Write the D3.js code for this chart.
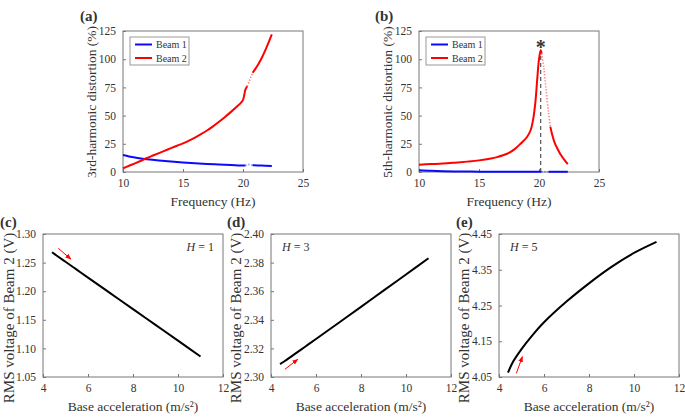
<!DOCTYPE html>
<html><head><meta charset="utf-8">
<script src="https://cdn.jsdelivr.net/npm/d3@7"></script>
<style>
body{margin:0;background:#fff;}
text{font-family:"Liberation Serif","Times New Roman",serif;fill:#333;}
</style></head>
<body><svg id="c" width="685" height="418"></svg>
<script>
// ---------- data ----------
// (a) 3rd-harmonic distortion (%)
const freqA_b1 = [10,10.5,11,11.5,12,13,14,15,16,17,18,19,20,20.2];
const beam1A   = [15,13.8,12.8,12,11.3,10.2,9.3,8.5,7.8,7.2,6.7,6.2,5.7,5.8];
const freqA_b1u = [20.2,20.35,20.5,20.65,20.8];
const beam1Au   = [5.8,6.3,6.6,6.3,6.0];
const freqA_b1h = [20.8,21.5,22.4];
const beam1Ah   = [6.0,5.7,5.4];
const freqA_b2 = [10,10.5,11,11.5,12,12.5,13,13.5,14,14.5,15,15.5,16,16.5,17,17.5,18,18.5,19,19.5,19.8,20,20.1,20.2,20.35];
const beam2A   = [3.3,5.5,7.7,10,12.4,14.6,16.8,19,21.2,23.3,25.4,27.8,30.5,33.5,36.8,40.5,44.5,48.8,53.3,58,61,64,68,73,76];
const freqA_b2u = [20.35,20.5,20.65,20.8];
const beam2Au   = [76,80,84,88];
const freqA_b2h = [20.8,21,21.3,21.6,21.9,22.1,22.4];
const beam2Ah   = [88,91,96,102,109,114,122];

// (b) 5th-harmonic distortion (%)
const freqB_b1 = [10,11,12,13,14,15,17,20,20.2];
const beam1B   = [1.5,1.0,0.7,0.5,0.4,0.3,0.2,0.2,0.2];
const freqB_b1u = [20.2,20.5,20.8];
const beam1Bu   = [0.2,0.2,0.2];
const freqB_b1h = [20.8,22.4];
const beam1Bh   = [0.2,0.2];
const freqB_b2 = [10,11,12,13,14,15,16,16.5,17,17.5,18,18.5,19,19.3,19.5,19.7,19.85,20,20.14,20.22];
const beam2B   = [6.5,7,7.5,8.3,9.2,10.3,12,13.2,14.8,17,20.5,25.5,31,37,46,62,82,100,108,105];
const freqB_b2u = [20.22,20.4,20.6,20.8,20.95];
const beam2Bu   = [105,92,72,52,40];
const freqB_b2h = [20.95,21.1,21.3,21.5,21.8,22.1,22.4];
const beam2Bh   = [40,33,26,21.5,15.5,11,7];
const peakFreqB = 20.14, peakValB = 108;

// (c)(d)(e) RMS voltage of Beam 2 vs base acceleration
const accel = [4.4,4.6,5,5.5,6,7,8,9,10,11];
const rmsH1 = [1.268,1.2625,1.2514,1.2376,1.2238,1.1962,1.1686,1.1411,1.1136,1.0858];
const rmsH3 = [2.309,2.311,2.3155,2.321,2.3266,2.3378,2.349,2.3604,2.3717,2.383];
const rmsH5 = [4.062,4.090,4.128,4.168,4.203,4.261,4.312,4.358,4.397,4.428];

const freqTicks = [10,15,20,25];
const distTicks = [0,25,50,75,100,125];
const accelTicks = [4,6,8,10,12];
const ticksH1 = [1.05,1.10,1.15,1.20,1.25,1.30];
const ticksH3 = [2.30,2.32,2.34,2.36,2.38,2.40];
const ticksH5 = [4.05,4.15,4.25,4.35,4.45];

// arrows [x1,y1,x2,y2] in data units
const arrowH1 = [4.68,1.275,5.24,1.256];
const arrowH3 = [4.62,2.3054,5.19,2.3124];
const arrowH5 = [4.77,4.060,5.04,4.107];

// ---------- drawing ----------
const svg = d3.select("#c");
const defs = svg.append("defs");
defs.append("marker").attr("id","ah").attr("viewBox","0 0 10 10").attr("refX",9).attr("refY",5)
  .attr("markerWidth",6).attr("markerHeight",6).attr("orient","auto")
  .append("path").attr("d","M0,1 L10,5 L0,9 Z").attr("fill","#f00");

function panel(o){
  const g = svg.append("g");
  const x = d3.scaleLinear().domain(o.xd).range([o.l,o.r]);
  const y = d3.scaleLinear().domain(o.yd).range([o.b,o.t]);
  const xa = g.append("g").attr("transform",`translate(0,${o.b})`)
    .call(d3.axisBottom(x).tickValues(o.xt).tickSize(-3).tickPadding(7).tickFormat(d3.format("d")));
  const ya = g.append("g").attr("transform",`translate(${o.l},0)`)
    .call(d3.axisLeft(y).tickValues(o.yt).tickSize(-3).tickPadding(7).tickFormat(o.yf));
  [xa,ya].forEach(a=>{
    a.select(".domain").remove();
    a.selectAll("line").attr("stroke","#777");
    a.selectAll("text").style("font-size","11.5px").attr("fill","#333");
  });
  g.append("rect").attr("x",o.l).attr("y",o.t).attr("width",o.r-o.l).attr("height",o.b-o.t)
    .attr("fill","none").attr("stroke","#777").attr("stroke-width",1);
  g.append("text").attr("x",(o.l+o.r)/2).attr("y",o.b+34).attr("text-anchor","middle")
    .style("font-size","13.5px").text(o.xl);
  g.append("text").attr("transform",`translate(${o.yx},${o.yc}) rotate(-90)`).attr("text-anchor","middle")
    .style("font-size",o.yfs).text(o.yl);
  g.append("text").attr("x",o.px).attr("y",o.py).style("font-size","15px").style("font-weight","bold")
    .attr("fill","#111").text(o.pl);
  return {g,x,y};
}

function line(p, xs, ys, color, dashed, w){
  const pts = xs.map((v,i)=>[v,ys[i]]);
  p.g.append("path").datum(pts)
    .attr("d", d3.line().x(d=>p.x(d[0])).y(d=>p.y(d[1])).curve(d3.curveCatmullRom.alpha(0.5)))
    .attr("fill","none").attr("stroke",color).attr("stroke-width",dashed?1.6:(w||2))
    .attr("stroke-dasharray",dashed?"1.2,1.8":null).attr("opacity",dashed?0.55:1);
}

function legend(p, lx, ly){
  const g = p.g.append("g");
  g.append("rect").attr("x",lx).attr("y",ly).attr("width",59).attr("height",28)
    .attr("fill","#fff").attr("stroke","#999");
  [["Beam 1","#0a0aff"],["Beam 2","#ff0000"]].forEach((d,i)=>{
    const yy = ly+7.5+i*13.5;
    g.append("line").attr("x1",lx+5).attr("x2",lx+22).attr("y1",yy).attr("y2",yy)
      .attr("stroke",d[1]).attr("stroke-width",2);
    g.append("text").attr("x",lx+26).attr("y",yy+3.5).style("font-size","10px").text(d[0]);
  });
}

const fmtInt = d3.format("d");
// (a)
const pa = panel({l:123,r:303,t:31,b:172,xd:[10,25],yd:[0,125],xt:freqTicks,yt:distTicks,yf:fmtInt,
  xl:"Frequency (Hz)",yl:"3rd-harmonic distortion (%)",yx:96,yc:102,yfs:"13.5px",pl:"(a)",px:80,py:21});
line(pa,freqA_b1,beam1A,"#0a0aff");
line(pa,freqA_b1u,beam1Au,"#0a0aff",true);
line(pa,freqA_b1h,beam1Ah,"#0a0aff");
line(pa,freqA_b2,beam2A,"#ff0000");
line(pa,freqA_b2u,beam2Au,"#ff0000",true);
line(pa,freqA_b2h,beam2Ah,"#ff0000");
legend(pa,130,37);

// (b)
const pb = panel({l:419,r:599,t:31,b:172,xd:[10,25],yd:[0,125],xt:freqTicks,yt:distTicks,yf:fmtInt,
  xl:"Frequency (Hz)",yl:"5th-harmonic distortion (%)",yx:392,yc:102,yfs:"13.5px",pl:"(b)",px:375,py:21});
pb.g.append("line").attr("x1",pb.x(peakFreqB)).attr("x2",pb.x(peakFreqB)).attr("y1",pb.y(0)).attr("y2",pb.y(peakValB))
  .attr("stroke","#555").attr("stroke-width",1.2).attr("stroke-dasharray","4,3");
line(pb,freqB_b1,beam1B,"#0a0aff");
line(pb,freqB_b1u,beam1Bu,"#0a0aff",true);
line(pb,freqB_b1h,beam1Bh,"#0a0aff");
line(pb,freqB_b2,beam2B,"#ff0000");
line(pb,freqB_b2u,beam2Bu,"#ff0000",true);
line(pb,freqB_b2h,beam2Bh,"#ff0000");
pb.g.append("text").attr("x",pb.x(peakFreqB)).attr("y",pb.y(peakValB)+4).attr("text-anchor","middle")
  .style("font-size","20px").style("font-weight","bold").attr("fill","#111").text("*");
legend(pb,426,37);

// (c)(d)(e)
function lower(o, ys, yt, fmt, arrow, hl, hx, hanchor){
  const p = panel({l:o.l,r:o.l+180,t:234,b:377,xd:[4,12],yd:[yt[0],yt[yt.length-1]],xt:accelTicks,yt:yt,yf:fmt,
    xl:"Base acceleration (m/s²)",yl:"RMS voltage of Beam 2 (V)",yx:o.yx,yc:318,yfs:"15px",pl:o.pl,px:o.px,py:227});
  line(p,accel,ys,"#000",false,2);
  p.g.append("line").attr("x1",p.x(arrow[0])).attr("y1",p.y(arrow[1])).attr("x2",p.x(arrow[2])).attr("y2",p.y(arrow[3]))
    .attr("stroke","#f00").attr("stroke-width",1).attr("marker-end","url(#ah)");
  const t = p.g.append("text").attr("x",hx).attr("y",251).attr("text-anchor",hanchor).style("font-size","12px");
  t.append("tspan").style("font-style","italic").text("H");
  t.append("tspan").text(" = "+hl);
}
lower({l:43,yx:14,pl:"(c)",px:0}, rmsH1, ticksH1, d3.format(".2f"), arrowH1, "1", 214, "end");
lower({l:271,yx:241,pl:"(d)",px:227}, rmsH3, ticksH3, d3.format(".2f"), arrowH3, "3", 282, "start");
lower({l:499,yx:469,pl:"(e)",px:456}, rmsH5, ticksH5, d3.format(".2f"), arrowH5, "5", 510, "start");
</script></body></html>
